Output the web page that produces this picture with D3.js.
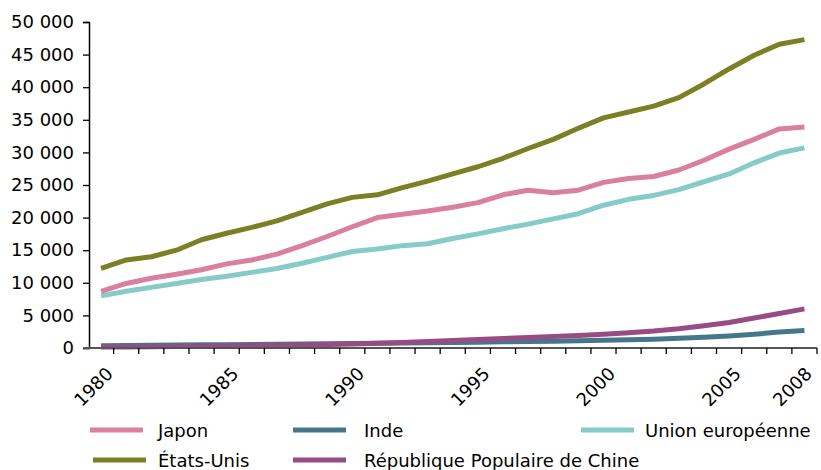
<!DOCTYPE html>
<html>
<head>
<meta charset="utf-8">
<script src="https://cdn.jsdelivr.net/npm/d3@7"></script>
<style>
  html, body { margin: 0; padding: 0; background: #ffffff; }
  svg { display: block; }
  text { font-family: "DejaVu Sans", Verdana, sans-serif; fill: #000; }
</style>
</head>
<body>
<svg id="chart" width="821" height="470"></svg>
<script>
const years = d3.range(1980, 2009);
const yearLabels = [1980, 1985, 1990, 1995, 2000, 2005, 2008];
const yTicks = [0, 5000, 10000, 15000, 20000, 25000, 30000, 35000, 40000, 45000, 50000];

const seriesNames = ["Japon", "Inde", "Union européenne", "États-Unis", "République Populaire de Chine"];
const seriesColors = ["#da7fa0", "#46768a", "#86cbc7", "#7c8024", "#984c86"];

const japon = [8700, 9900, 10700, 11300, 12000, 12900, 13500, 14400, 15700, 17100, 18600, 20000, 20500, 21000, 21600, 22300, 23500, 24200, 23800, 24200, 25400, 26000, 26300, 27300, 28800, 30500, 32000, 33600, 33900];
const inde = [350, 400, 420, 450, 480, 500, 520, 560, 600, 650, 700, 720, 750, 800, 850, 900, 950, 1000, 1050, 1100, 1200, 1250, 1350, 1500, 1650, 1850, 2100, 2450, 2700];
const ue = [8000, 8700, 9300, 9900, 10500, 11000, 11600, 12200, 13000, 13900, 14800, 15200, 15700, 16000, 16800, 17500, 18300, 19000, 19800, 20600, 21900, 22800, 23400, 24300, 25500, 26700, 28400, 29900, 30700];
const usa = [12200, 13500, 14000, 15000, 16600, 17600, 18500, 19500, 20800, 22100, 23100, 23500, 24600, 25600, 26700, 27800, 29100, 30600, 32000, 33700, 35300, 36200, 37100, 38400, 40500, 42800, 44900, 46600, 47300];
const chine = [150, 170, 190, 220, 260, 300, 340, 400, 470, 540, 620, 720, 860, 1000, 1150, 1300, 1450, 1600, 1750, 1900, 2100, 2350, 2600, 2950, 3400, 3900, 4600, 5300, 6000];

const seriesValues = [japon, inde, ue, usa, chine];

const svg = d3.select("#chart");
const mLeft = 88.5, mRight = 817, mTop = 22, mBottom = 348;

const x = d3.scaleBand().domain(years).range([mLeft, mRight]);
const y = d3.scaleLinear().domain([0, 50000]).range([mBottom, mTop]);
const fmt = v => d3.format(",")(v).replace(/,/g, " ");

// Y axis
const yAxis = svg.append("g").attr("transform", `translate(${mLeft + 0.5},0)`)
  .call(d3.axisLeft(y).tickValues(yTicks).tickSize(6).tickPadding(9).tickFormat(fmt));
yAxis.select(".domain").attr("stroke", "#000").attr("stroke-width", 1.5);
yAxis.selectAll(".tick line").attr("stroke", "#000").attr("stroke-width", 1.3);
yAxis.selectAll(".tick text").style("font-size", "18px").style("font-family", "DejaVu Sans");

// Lines
const line = d3.line()
  .x((d, i) => x(years[i]) + x.bandwidth() / 2)
  .y(d => y(d));

const order = [1, 4, 2, 0, 3];
order.forEach(k => {
  svg.append("path")
    .datum(seriesValues[k])
    .attr("fill", "none")
    .attr("stroke", seriesColors[k])
    .attr("stroke-width", 5)
    .attr("stroke-linejoin", "round")
    .attr("d", line);
});

// X axis
const xAxisG = svg.append("g").attr("transform", `translate(0,${mBottom})`);
xAxisG.append("line").attr("x1", mLeft - 5).attr("x2", mRight).attr("y1", 0).attr("y2", 0)
  .attr("stroke", "#555").attr("stroke-width", 2);
const bounds = years.map(yr => x(yr)).concat([mRight]);
xAxisG.selectAll("line.tk").data(bounds.slice(1)).join("line").attr("class", "tk")
  .attr("x1", d => d).attr("x2", d => d).attr("y1", 0).attr("y2", 6)
  .attr("stroke", "#000").attr("stroke-width", 1.3);

xAxisG.selectAll("text.yl").data(yearLabels).join("text").attr("class", "yl")
  .attr("transform", d => {
    const cx = x(d) + x.bandwidth() / 2;
    const ax = Math.min(cx + 13, 813);
    return `translate(${ax},${27}) rotate(-45)`;
  })
  .attr("text-anchor", "end")
  .style("font-size", "18px")
  .text(d => d);

// Legend
const legendPos = [
  {sx: 90, tx: 158, y: 430},
  {sx: 293, tx: 364, y: 430},
  {sx: 581, tx: 645, y: 430},
  {sx: 93, tx: 158, y: 460},
  {sx: 293, tx: 364, y: 460}
];
const lg = svg.append("g");
seriesNames.forEach((name, i) => {
  const p = legendPos[i];
  lg.append("line").attr("x1", p.sx).attr("x2", p.sx + 53).attr("y1", p.y).attr("y2", p.y)
    .attr("stroke", seriesColors[i]).attr("stroke-width", 5);
  lg.append("text").attr("x", p.tx).attr("y", p.y + 7).style("font-size", "18px").text(name);
});
</script>
</body>
</html>
